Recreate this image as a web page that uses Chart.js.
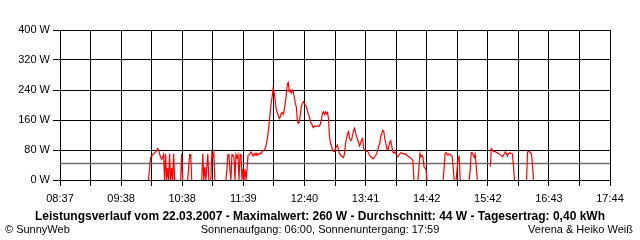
<!DOCTYPE html>
<html>
<head>
<meta charset="utf-8">
<script src="https://cdn.jsdelivr.net/npm/chart.js@4"></script>
<style>
  body { margin: 0; background: #fff; }
  #wrap { position: relative; width: 640px; height: 240px; font-family: 'Liberation Sans', Arial, sans-serif; font-size: 11px; color: #000; }
  .txt { position: absolute; white-space: nowrap; line-height: 13px; }
</style>
</head>
<body>
<div id="wrap">
  <canvas id="chart" width="640" height="240"></canvas>
  <div class="txt" id="title" style="left:0;width:640px;top:210px;text-align:center;font-weight:bold;font-size:12px"></div>
  <div class="txt" style="left:5px;top:223px">© SunnyWeb</div>
  <div class="txt" style="left:0;width:640px;top:223px;text-align:center">Sonnenaufgang: 06:00, Sonnenuntergang: 17:59</div>
  <div class="txt" style="right:7px;top:223px">Verena &amp; Heiko Weiß</div>
</div>
<script>
// Zeitachse: Minuten seit 08:37, Ende 17:44
const spanMin = 547;
const timeLabels = ['08:37', '09:38', '10:38', '11:39', '12:40', '13:41', '14:42', '15:42', '16:43', '17:44'];
const yTicks = [0, 80, 160, 240, 320, 400];

// Messreihen: Startminute je Abschnitt + Leistung (W) pro Minute
const segStart = [88, 120, 127, 141, 150, 165, 356, 381, 394, 407, 428, 464];
const segWatts = [
  [0, 27, 60, 63, 66, 70, 72, 75, 78, 84, 80, 70, 62, 55, 60, 68, 0, 70, 0, 32, 0, 70, 0, 32, 0, 70, 0],
  [0, 70, 0],
  [0, 35, 68, 68, 0],
  [0, 70, 0, 35, 0, 35, 70, 0],
  [0, 72, 62, 72, 0],
  [0, 28, 68, 68, 28, 0, 68, 66, 60, 0, 68, 60, 68, 0, 68, 68, 0, 30, 0, 30, 0, 30, 65,
   67, 70, 75, 70, 64, 70, 67, 72, 65, 70, 68, 72, 70, 75, 78, 80, 84, 93, 107, 125, 151,
   180, 205, 222, 245, 232, 212, 190, 180, 173, 164, 168, 178, 180, 175, 186, 205, 227, 255, 260,
   236, 240, 232, 240, 235, 222, 205, 196, 160, 151, 154, 175, 196, 203, 209, 205, 200, 196,
   185, 175, 169, 156, 151, 145, 140, 144, 143, 143, 144, 145, 143, 150, 160, 178, 182, 175,
   182, 176, 180, 165, 116, 98, 91, 80, 76, 76, 84, 90, 93, 80, 71, 66, 64, 62, 60, 70, 98,
   111, 124, 129, 111, 105, 107, 120, 133, 138, 125, 115, 107, 100, 91, 98, 107, 111, 84, 80,
   78, 76, 76, 72, 66, 62, 60, 56, 58, 62, 66, 71, 80, 90, 98, 116, 124, 133, 129, 111, 98,
   84, 80, 90, 102, 105, 90, 75, 72, 75, 71, 66, 62, 66, 70, 73, 72, 71, 70, 68, 70, 66, 64,
   62, 60, 58, 55, 52, 0],
  [0, 33, 71, 62, 66, 60, 35, 32, 28, 0],
  [0, 31, 71, 73, 68, 66, 70, 68, 66, 62, 35, 0],
  [0, 31, 58, 62, 0],
  [0, 31, 73, 72, 66, 60, 69, 36, 0],
  [36, 84, 80, 76, 75, 76, 74, 73, 70, 69, 67, 65, 62, 66, 70, 75, 70, 64, 71, 72, 71, 71, 69, 36, 0],
  [0, 75, 76, 75, 73, 68, 36, 0]
];

const dateStr = '22.03.2007';
const maxW = 260;
const avgW = 44;
const dayKWh = '0,40';

document.getElementById('title').textContent =
  `Leistungsverlauf vom ${dateStr} - Maximalwert: ${maxW} W - Durchschnitt: ${avgW} W - Tagesertrag: ${dayKWh} kWh`;

// Punkte aufbauen, Lücken zwischen Abschnitten mit null
const points = [];
segStart.forEach((start, s) => {
  if (s > 0) points.push({ x: start - 0.5, y: null });
  segWatts[s].forEach((w, i) => points.push({ x: start + i, y: w }));
});

const tickFont = { family: "'Liberation Sans', Arial, sans-serif", size: 11 };

new Chart(document.getElementById('chart'), {
  type: 'line',
  data: {
    datasets: [
      { data: points, borderColor: '#ff0000', borderWidth: 1.2, pointRadius: 0, tension: 0, spanGaps: false },
      { data: [{ x: 0, y: avgW }, { x: spanMin, y: avgW }], borderColor: '#6e6e6e', borderWidth: 1.4, pointRadius: 0 }
    ]
  },
  options: {
    responsive: false,
    animation: false,
    events: [],
    layout: { autoPadding: false, padding: { left: 0, top: 30, right: 30, bottom: 38 } },
    plugins: { legend: { display: false }, tooltip: { enabled: false } },
    scales: {
      x: {
        type: 'linear', min: 0, max: spanMin, z: 1,
        afterBuildTicks: s => { s.ticks = Array.from({ length: 19 }, (_, i) => ({ value: i * spanMin / 18 })); },
        afterFit: s => { s.height = 22; },
        ticks: {
          autoSkip: false, maxRotation: 0, padding: 6, color: '#000', font: tickFont,
          callback: (v, i) => i % 2 === 0 ? timeLabels[i / 2] : ''
        },
        grid: { color: '#000', lineWidth: 1, tickLength: 6 },
        border: { color: '#000', width: 1 }
      },
      y: {
        min: 0, max: 400, z: 1,
        afterBuildTicks: s => { s.ticks = yTicks.map(v => ({ value: v })); },
        afterFit: s => { s.width = 60; },
        ticks: { padding: 3, color: '#000', font: tickFont, callback: v => v + ' W' },
        grid: { color: '#000', lineWidth: 1, tickLength: 7 },
        border: { color: '#000', width: 1 }
      }
    }
  }
});
</script>
</body>
</html>
